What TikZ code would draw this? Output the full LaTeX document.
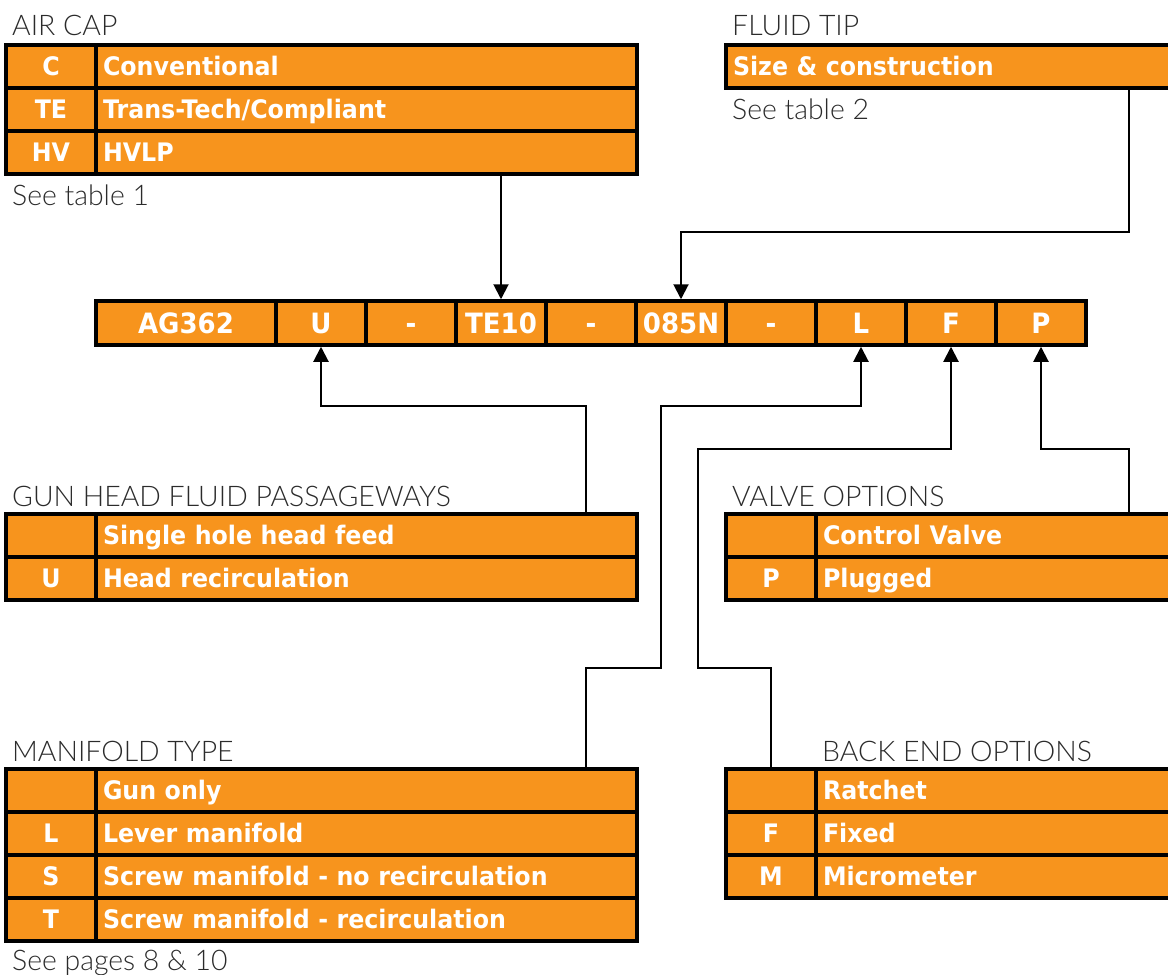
\documentclass[tikz,border=0pt]{standalone}
\usepackage{fontspec}
\setmainfont{DejaVu Sans}
\newfontfamily\boldf[FakeStretch=0.93]{DejaVu Sans}
\newfontfamily\lightf{Lato Light}
\usetikzlibrary{arrows.meta}
\definecolor{org}{HTML}{F7941D}
\definecolor{ttl}{HTML}{2B2B2B}
\tikzset{
  cell/.style={draw=black, line width=3.5pt, fill=org, text=white,
    font=\boldf\bfseries\fontsize{25.5}{28}\selectfont,
    minimum height=43pt, inner sep=0pt, text height=18.5pt, text depth=0pt},
  codecell/.style={cell, minimum width=90pt, align=center},
  desccell/.style={cell, text width=#1, align=left, inner xsep=7pt},
  barcell/.style={cell, minimum width=90pt, minimum height=44pt,
    font=\boldf\bfseries\fontsize{28}{30}\selectfont, text height=20.5pt},
  title/.style={font=\lightf\fontsize{28.4}{30}\selectfont, text=ttl, anchor=base west, inner sep=0pt},
  conn/.style={line width=2pt, -{Triangle[width=15pt,length=15pt]}},
}
\begin{document}
\begin{tikzpicture}[x=1pt,y=-1pt]
\useasboundingbox (0,0) rectangle (1168,975);
\clip (0,0) rectangle (1168,975);

% AIR CAP
\node[title] (acT) at (12,35) {AIR CAP};
\node[codecell] (ac1c) at (51,66.5) {C};
\node[desccell=527pt] (ac1d) at (366.5,66.5) {Conventional};
\node[codecell] (ac2c) at (51,109.5) {TE};
\node[desccell=527pt] (ac2d) at (366.5,109.5) {Trans-Tech/Compliant};
\node[codecell] (ac3c) at (51,152.5) {HV};
\node[desccell=527pt] (ac3d) at (366.5,152.5) {HVLP};
\node[title] (acS) at (12,205) {See table 1};

% FLUID TIP
\node[title] (ftT) at (732,35) {FLUID TIP};
\node[desccell=450pt] (ft) at (958,66.5) {Size \& construction};
\node[title] (ftS) at (732,119) {See table 2};

% main bar
\node[barcell, minimum width=180pt] (ag) at (186,323) {AG362};
\node[barcell] (u) at (321,323) {U};
\node[barcell] (d1) at (411,323) {-};
\node[barcell] (te) at (501,323) {TE10};
\node[barcell] (d2) at (591,323) {-};
\node[barcell] (n085) at (681,323) {085N};
\node[barcell] (d3) at (771,323) {-};
\node[barcell] (l) at (861,323) {L};
\node[barcell] (f) at (951,323) {F};
\node[barcell] (p) at (1041,323) {P};

% GUN HEAD
\node[title] (ghT) at (12,506) {GUN HEAD FLUID PASSAGEWAYS};
\node[codecell] (gh1c) at (51,535.5) {};
\node[desccell=527pt] (gh1d) at (366.5,535.5) {Single hole head feed};
\node[codecell] (gh2c) at (51,578.5) {U};
\node[desccell=527pt] (gh2d) at (366.5,578.5) {Head recirculation};

% VALVE OPTIONS
\node[title] (voT) at (732,506) {VALVE OPTIONS};
\node[codecell] (vo1c) at (771,535.5) {};
\node[desccell=360pt] (vo1d) at (1003,535.5) {Control Valve};
\node[codecell] (vo2c) at (771,578.5) {P};
\node[desccell=360pt] (vo2d) at (1003,578.5) {Plugged};

% MANIFOLD TYPE
\node[title] (mfT) at (12,761) {MANIFOLD TYPE};
\node[codecell] (mf1c) at (51,790.5) {};
\node[desccell=527pt] (mf1d) at (366.5,790.5) {Gun only};
\node[codecell] (mf2c) at (51,833.5) {L};
\node[desccell=527pt] (mf2d) at (366.5,833.5) {Lever manifold};
\node[codecell] (mf3c) at (51,876.5) {S};
\node[desccell=527pt] (mf3d) at (366.5,876.5) {Screw manifold - no recirculation};
\node[codecell] (mf4c) at (51,919.5) {T};
\node[desccell=527pt] (mf4d) at (366.5,919.5) {Screw manifold - recirculation};
\node[title] (mfS) at (12,970) {See pages 8 \& 10};

% BACK END OPTIONS
\node[title] (beT) at (822,761) {BACK END OPTIONS};
\node[codecell] (be1c) at (771,790.5) {};
\node[desccell=360pt] (be1d) at (1003,790.5) {Ratchet};
\node[codecell] (be2c) at (771,833.5) {F};
\node[desccell=360pt] (be2d) at (1003,833.5) {Fixed};
\node[codecell] (be3c) at (771,876.5) {M};
\node[desccell=360pt] (be3d) at (1003,876.5) {Micrometer};

% helper coordinates
\coordinate (xr) at (1129,0);
\coordinate (xm) at (586,0);
\coordinate (x661) at (661,0);
\coordinate (x698) at (698,0);
\coordinate (y232) at (0,232);
\coordinate (y406) at (0,406);
\coordinate (y449) at (0,449);
\coordinate (y668) at (0,668);

% connectors
\draw[conn] (ac3d.south -| te.north) -- (te.north);
\draw[conn] (ft.south -| xr) -- (xr |- y232) -| (n085.north);
\draw[conn] (gh1d.north -| xm) -- (xm |- y406) -| (u.south);
\draw[conn] (mf1d.north -| xm) -- (xm |- y668) -| (x661 |- y406) -| (l.south);
\draw[conn] (be1c.north) -- (be1c.north |- y668) -| (x698 |- y449) -| (f.south);
\draw[conn] (vo1d.north -| xr) -- (xr |- y449) -| (p.south);
\end{tikzpicture}
\end{document}
